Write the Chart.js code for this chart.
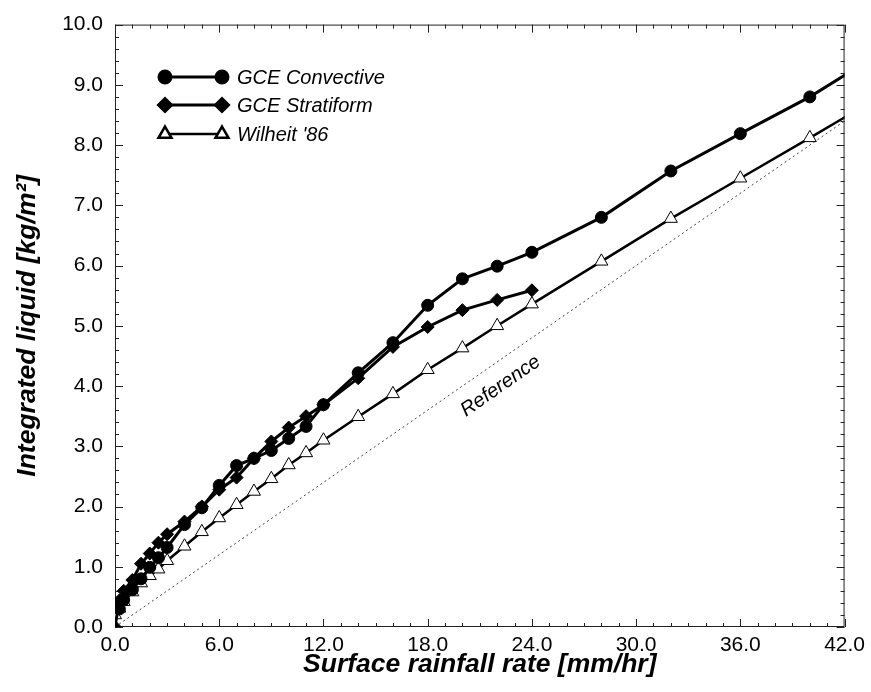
<!DOCTYPE html>
<html>
<head>
<meta charset="utf-8">
<script src="https://cdn.jsdelivr.net/npm/chart.js@4.4.1/dist/chart.umd.min.js"></script>
<style>
  html, body { margin: 0; padding: 0; background: #fff; }
</style>
</head>
<body>
<canvas id="myChart" width="871" height="692"></canvas>
<script>
// surface rainfall rate [mm/hr] for each series
const convRate = [0.25, 0.5, 1, 1.5, 2, 2.5, 3, 4, 5, 6, 7, 8, 9, 10, 11, 12, 14, 16, 18, 20, 22, 24, 28, 32, 36, 40, 44];
const convLiquid = [0.30, 0.45, 0.62, 0.80, 0.99, 1.15, 1.32, 1.70, 1.98, 2.35, 2.68, 2.80, 2.93, 3.13, 3.33, 3.69, 4.22, 4.72, 5.34, 5.78, 5.99, 6.22, 6.80, 7.57, 8.19, 8.80, 9.52];

const stratRate = [0, 0.25, 0.5, 1, 1.5, 2, 2.5, 3, 4, 5, 6, 7, 8, 9, 10, 11, 12, 14, 16, 18, 20, 22, 24];
const stratLiquid = [0.0, 0.44, 0.60, 0.78, 1.05, 1.22, 1.40, 1.54, 1.75, 2.00, 2.28, 2.48, 2.80, 3.08, 3.31, 3.50, 3.69, 4.13, 4.65, 4.98, 5.26, 5.43, 5.59];

const wilRate = [0, 0.25, 0.5, 1, 1.5, 2, 2.5, 3, 4, 5, 6, 7, 8, 9, 10, 11, 12, 14, 16, 18, 20, 22, 24, 28, 32, 36, 40, 44];
const wilLiquid = [0.20, 0.31, 0.42, 0.58, 0.73, 0.85, 0.96, 1.10, 1.34, 1.58, 1.81, 2.03, 2.25, 2.46, 2.69, 2.89, 3.10, 3.49, 3.87, 4.27, 4.63, 5.00, 5.36, 6.07, 6.78, 7.45, 8.12, 8.80];

const refRate = [0, 42];
const refLiquid = [0, 8.4];

const seriesLabels = ['GCE Convective', 'GCE Stratiform', "Wilheit '86"];
const refLabel = 'Reference';
const xTitle = 'Surface rainfall rate [mm/hr]';
const yTitle = 'Integrated liquid [kg/m\u00b2]';

const pts = (xs, ys) => xs.map((x, i) => ({ x, y: ys[i] }));

const FONT = "'Liberation Sans', Arial, Helvetica, sans-serif";

// inward ticks on all four sides, plus the frame
const frameTicks = {
  id: 'frameTicks',
  beforeDatasetsDraw(chart) {
    const { ctx, chartArea: a, scales: { x, y } } = chart;
    ctx.save();
    ctx.strokeStyle = '#222';
    ctx.lineWidth = 1;
    ctx.strokeRect(a.left + 0.5, a.top + 0.5, a.width - 1, a.height - 1);
    ctx.beginPath();
    for (let v = 0; v <= 42; v += 1) {
      const px = Math.round(x.getPixelForValue(v)) + 0.5;
      const len = v % 6 === 0 ? 8 : 4;
      ctx.moveTo(px, a.bottom); ctx.lineTo(px, a.bottom - len);
      ctx.moveTo(px, a.top); ctx.lineTo(px, a.top + len);
    }
    for (let i = 0; i <= 50; i++) {
      const py = Math.round(y.getPixelForValue(i * 0.2)) + 0.5;
      const len = i % 5 === 0 ? 8 : 4;
      ctx.moveTo(a.left, py); ctx.lineTo(a.left + len, py);
      ctx.moveTo(a.right, py); ctx.lineTo(a.right - len, py);
    }
    ctx.stroke();
    ctx.restore();
  },
  afterDatasetsDraw(chart) {
    const { ctx, scales: { x, y } } = chart;
    ctx.save();
    // label along the reference line
    const ang = Math.atan2(
      y.getPixelForValue(refLiquid[1]) - y.getPixelForValue(refLiquid[0]),
      x.getPixelForValue(refRate[1]) - x.getPixelForValue(refRate[0])
    );
    ctx.translate(x.getPixelForValue(22.2), y.getPixelForValue(4.0));
    ctx.rotate(ang);
    ctx.font = 'italic 20px ' + FONT;
    ctx.fillStyle = '#000';
    ctx.textAlign = 'center';
    ctx.textBaseline = 'middle';
    ctx.fillText(refLabel, 0, 0);
    ctx.restore();

    // legend in the upper left corner
    ctx.save();
    const rows = [77, 105, 134];
    chart.data.datasets.slice(0, 3).forEach((ds, i) => {
      const yy = rows[i];
      ctx.strokeStyle = '#000';
      ctx.lineWidth = ds.borderWidth;
      ctx.beginPath();
      ctx.moveTo(165, yy); ctx.lineTo(222, yy);
      ctx.stroke();
      ctx.fillStyle = ds.pointBackgroundColor;
      ctx.strokeStyle = '#000';
      const opts = { pointStyle: ds.pointStyle, radius: ds.pointRadius, rotation: 0, borderWidth: ds.pointBorderWidth };
      Chart.helpers.drawPoint(ctx, opts, 165, yy);
      Chart.helpers.drawPoint(ctx, opts, 222, yy);
      ctx.fillStyle = '#000';
      ctx.font = 'italic 20px ' + FONT;
      ctx.textBaseline = 'middle';
      ctx.fillText(seriesLabels[i], 237, yy + 1);
    });
    ctx.restore();
  }
};

const datasets = [
  {
    data: pts(convRate, convLiquid),
    borderColor: '#000', borderWidth: 3,
    pointStyle: 'circle', pointRadius: 6,
    pointBackgroundColor: '#000', pointBorderColor: '#000', pointBorderWidth: 1
  },
  {
    data: pts(stratRate, stratLiquid),
    borderColor: '#000', borderWidth: 3,
    pointStyle: 'rectRot', pointRadius: 6.5,
    pointBackgroundColor: '#000', pointBorderColor: '#000', pointBorderWidth: 1
  },
  {
    data: pts(wilRate, wilLiquid),
    borderColor: '#000', borderWidth: 2.5,
    pointStyle: 'triangle', pointRadius: 7.5,
    pointBackgroundColor: '#fff', pointBorderColor: '#000', pointBorderWidth: 1
  },
  {
    data: pts(refRate, refLiquid),
    borderColor: '#444', borderWidth: 1, borderDash: [2, 3],
    pointRadius: 0
  }
];

const tickFont = { family: FONT, size: 21 };
const titleFont = { family: FONT, size: 26.5, style: 'italic', weight: 'bold' };

new Chart(document.getElementById('myChart').getContext('2d'), {
  type: 'scatter',
  data: { datasets },
  options: {
    responsive: false,
    animation: false,
    showLine: true,
    layout: { padding: { top: 16, right: 22, left: 0, bottom: 0 } },
    plugins: { legend: { display: false }, tooltip: { enabled: false } },
    scales: {
      x: {
        type: 'linear', min: 0, max: 42,
        ticks: { stepSize: 6, callback: v => v.toFixed(1), font: tickFont, color: '#000', padding: 6, maxRotation: 0 },
        grid: { display: false, drawTicks: false },
        border: { display: false },
        title: { display: true, text: xTitle, font: titleFont, color: '#000', padding: 11 },
        afterFit(s) { s.height = 65; }
      },
      y: {
        type: 'linear', min: 0, max: 10,
        ticks: { stepSize: 1, callback: v => v.toFixed(1), font: tickFont, color: '#000', padding: 12 },
        grid: { display: false, drawTicks: false },
        border: { display: false },
        title: { display: true, text: yTitle, font: titleFont, color: '#000', padding: 12 },
        afterFit(s) { s.width = 115; }
      }
    }
  },
  plugins: [frameTicks]
});
</script>
</body>
</html>
